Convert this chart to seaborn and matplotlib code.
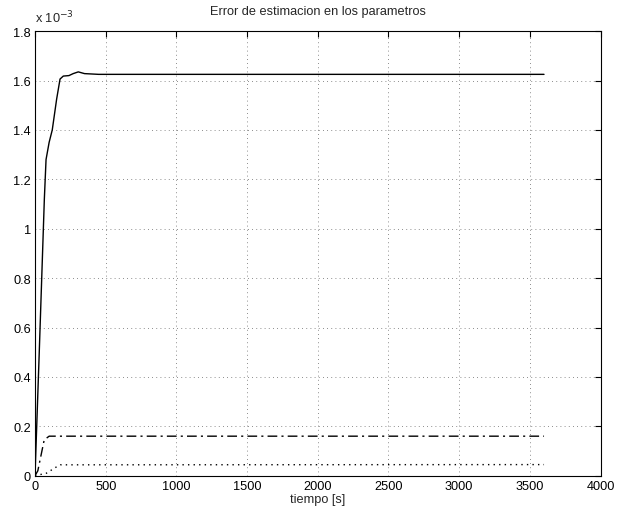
import matplotlib
matplotlib.use("Agg")
import matplotlib.pyplot as plt
import seaborn as sns
import numpy as np
import pandas as pd

# time [s] and parameter estimation errors (values in units of 1e-3)
t_solid = [0, 30, 66, 78, 100, 122, 153, 177, 200, 240, 270, 306, 350, 450, 3600]
e_solid = [0, 0.5, 1.12, 1.28, 1.35, 1.40, 1.525, 1.606, 1.618, 1.62, 1.628, 1.635, 1.628, 1.625, 1.625]

t_dashdot = [0, 20, 65, 100, 3600]
e_dashdot = [0, 0.02, 0.145, 0.16, 0.16]

t_dotted = [0, 80, 150, 180, 3600]
e_dotted = [0, 0.01, 0.035, 0.044, 0.045]

xticks = [0, 500, 1000, 1500, 2000, 2500, 3000, 3500, 4000]
yticks = [0, 0.2, 0.4, 0.6, 0.8, 1.0, 1.2, 1.4, 1.6, 1.8]

sns.set_style("white")
plt.rcParams['font.family'] = ['Liberation Sans', 'DejaVu Sans']
plt.rcParams['font.size'] = 9.2

fig = plt.figure(figsize=(6.23, 5.10), dpi=100)
ax = fig.add_axes([0.0562, 0.0653, 0.9078, 0.8717])

def df(t, e):
    return pd.DataFrame({"t": t, "e": e})

sns.lineplot(data=df(t_solid, e_solid), x="t", y="e", ax=ax, color="black", lw=1.0)
sns.lineplot(data=df(t_dashdot, e_dashdot), x="t", y="e", ax=ax, color="black", lw=1.0,
             linestyle=(0, (7, 3, 1.5, 3)))
sns.lineplot(data=df(t_dotted, e_dotted), x="t", y="e", ax=ax, color="black", lw=1.0,
             linestyle=(0, (1, 3)))

ax.set_xlim(0, 4000)
ax.set_ylim(0, 1.8)
ax.set_xticks(xticks)
ax.set_yticks(yticks)
ax.set_xticklabels([str(v) for v in xticks])
ax.set_yticklabels(["%g" % v for v in yticks])
ax.grid(True, color="black", linestyle=(0, (1, 4)), linewidth=0.6, alpha=0.6)
ax.tick_params(direction="in", top=True, right=True, length=4, width=0.8, colors="black", pad=3)
for s in ax.spines.values():
    s.set_visible(True)
    s.set_color("black")
    s.set_linewidth(0.8)

ax.set_xlabel("tiempo [s]", labelpad=1)
ax.set_ylabel("")
ax.set_title("Error de estimacion en los parametros", fontsize=9.2, pad=12)
ax.text(0.0, 1.012, r"x 10$^{-3}$", transform=ax.transAxes, ha="left", va="bottom", fontsize=9.2)

fig.savefig("out.png", dpi=100, facecolor="white")
